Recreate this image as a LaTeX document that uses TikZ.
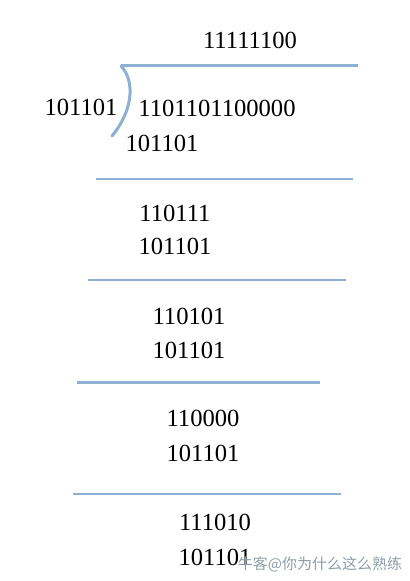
\documentclass[tikz,border=0pt]{standalone}
\usepackage{fontspec}
\setmainfont{Liberation Serif}
\newfontfamily\cjk{Noto Sans CJK SC}
\usetikzlibrary{positioning}
\definecolor{rulecolor}{HTML}{8DB0D6}
\definecolor{markgray}{HTML}{8E9CA8}

\begin{document}
\begin{tikzpicture}[
    x=0.5pt,y=-0.5pt,
    digits/.style={inner sep=0pt,font=\fontsize{12.3}{14}\selectfont},
    rule/.style={draw=rulecolor,line width=#1},
    rule/.default=1pt,
    watermark text/.style={inner sep=0pt,text=markgray,font=\cjk\fontsize{7.5}{9}\selectfont},
  ]
\useasboundingbox (0,0) rectangle (410,581);

\node (quotient) [digits] at (250,40) {11111100};
\node (divisor) [digits] at (81,107) {101101};
\node (dividend) [digits] at (217,108) {1101101100000};

\node (sub one) [digits] at (162,143) {101101};
\node (rem one) [digits] at (175,213) {110111};
\node (sub two) [digits] at (175,246) {101101};
\node (rem two) [digits] at (189,316) {110101};
\node (sub three) [digits] at (189,350) {101101};
\node (rem three) [digits] at (203,418) {110000};
\node (sub four) [digits] at (203,453) {101101};
\node (rem four) [digits] at (215,522) {111010};
\node (sub five) [digits] at (215,557) {101101};

% division bracket
\coordinate (bar left) at (121,66);
\coordinate (bar right) at (358,66);
\draw[rule=1.5pt] (bar left) -- (bar right);
\draw[rule=1.5pt,line cap=round] (bar left) .. controls (136,82) and (132,112) .. (112,136);

% subtraction rules
\coordinate (r1 l) at (96,179);  \coordinate (r1 r) at (353,179);
\coordinate (r2 l) at (88,280);  \coordinate (r2 r) at (346,280);
\coordinate (r3 l) at (77,382);  \coordinate (r3 r) at (320,382);
\coordinate (r4 l) at (73,494);  \coordinate (r4 r) at (341,494);
\draw[rule] (r1 l) -- (r1 r);
\draw[rule] (r2 l) -- (r2 r);
\draw[rule=1.5pt] (r3 l) -- (r3 r);
\draw[rule] (r4 l) -- (r4 r);

\node (watermark) [watermark text] at (320,564) {牛客@你为什么这么熟练};
\end{tikzpicture}
\end{document}
